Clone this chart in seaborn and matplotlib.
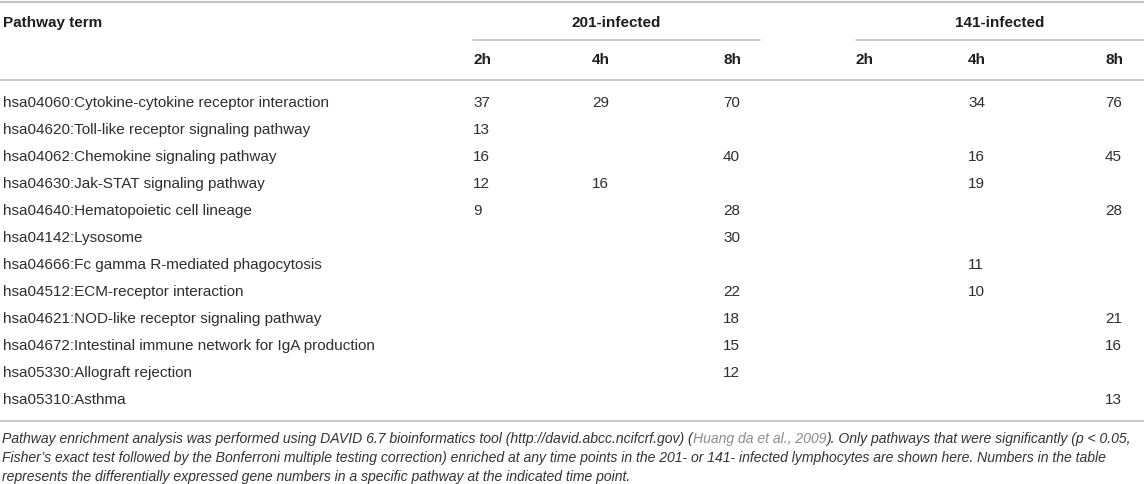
import matplotlib
matplotlib.use("Agg")
import matplotlib.pyplot as plt
from matplotlib import font_manager
import seaborn as sns
import pandas as pd

pathways = [
    "hsa04060:Cytokine-cytokine receptor interaction",
    "hsa04620:Toll-like receptor signaling pathway",
    "hsa04062:Chemokine signaling pathway",
    "hsa04630:Jak-STAT signaling pathway",
    "hsa04640:Hematopoietic cell lineage",
    "hsa04142:Lysosome",
    "hsa04666:Fc gamma R-mediated phagocytosis",
    "hsa04512:ECM-receptor interaction",
    "hsa04621:NOD-like receptor signaling pathway",
    "hsa04672:Intestinal immune network for IgA production",
    "hsa05330:Allograft rejection",
    "hsa05310:Asthma",
]
n = None
inf201_2h = [37, 13, 16, 12, 9, n, n, n, n, n, n, n]
inf201_4h = [29, n, n, 16, n, n, n, n, n, n, n, n]
inf201_8h = [70, n, 40, n, 28, 30, n, 22, 18, 15, 12, n]
inf141_2h = [n, n, n, n, n, n, n, n, n, n, n, n]
inf141_4h = [34, n, 16, 19, n, n, 11, 10, n, n, n, n]
inf141_8h = [76, n, 45, n, 28, n, n, n, 21, 16, n, 13]

groups = ["201-infected", "141-infected"]
timepoints = ["2h", "4h", "8h"]

caption = [
    [("Pathway enrichment analysis was performed using DAVID 6.7 bioinformatics tool (http://david.abcc.ncifcrf.gov) (", "#333333"),
     ("Huang da et al., 2009", "#8c8c8c"),
     ("). Only pathways that were significantly (p < 0.05,", "#333333")],
    [("Fisher\u2019s exact test followed by the Bonferroni multiple testing correction) enriched at any time points in the 201- or 141- infected lymphocytes are shown here. Numbers in the table", "#333333")],
    [("represents the differentially expressed gene numbers in a specific pathway at the indicated time point.", "#333333")],
]

df = pd.DataFrame({
    ("201-infected", "2h"): inf201_2h, ("201-infected", "4h"): inf201_4h, ("201-infected", "8h"): inf201_8h,
    ("141-infected", "2h"): inf141_2h, ("141-infected", "4h"): inf141_4h, ("141-infected", "8h"): inf141_8h,
}, index=pathways)

sns.set_theme(style="white")
plt.rcParams["font.family"] = ["Liberation Sans", "DejaVu Sans"]

# narrow face for the caption if there is one
names = {f.name for f in font_manager.fontManager.ttflist}
cap_family = ["Liberation Sans Narrow", "DejaVu Sans"] if "Liberation Sans Narrow" in names else ["Liberation Sans", "DejaVu Sans"]

W, H = 1144, 485
fig = plt.figure(figsize=(W / 100, H / 100), dpi=100)
ax = fig.add_axes([0, 0, 1, 1])
ax.set_xlim(0, W)
ax.set_ylim(H, 0)
ax.axis("off")

col_x = {("201-infected", "2h"): 473, ("201-infected", "4h"): 592, ("201-infected", "8h"): 723,
         ("141-infected", "2h"): 855, ("141-infected", "4h"): 968, ("141-infected", "8h"): 1105}
group_span = {"201-infected": (473, 760), "141-infected": (856, 1144)}

line_c = "#c4c4c4"
txt_c = "#2e2e2e"
head_c = "#1e1e1e"
fs = 11

# rules
ax.plot([0, W], [3, 3], color=line_c, lw=1.5)
ax.plot([0, W], [81, 81], color=line_c, lw=1.3)
ax.plot([0, W], [422, 422], color=line_c, lw=1.3)

ax.text(3, 23, "Pathway term", fontsize=fs, weight="bold", color=head_c, va="center")
for g in groups:
    x0, x1 = group_span[g]
    ax.plot([x0, x1], [41, 41], color=line_c, lw=1.3)
    ax.text((x0 + x1) / 2, 23, g, fontsize=fs, weight="bold", color=head_c, va="center", ha="center")
    for t in timepoints:
        ax.text(col_x[(g, t)], 60, t, fontsize=fs, weight="bold", color=head_c, va="center")

row_y0, row_dy = 103, 27
for i, p in enumerate(df.index):
    y = row_y0 + i * row_dy
    ax.text(3, y, p, fontsize=fs, color=txt_c, va="center")
    for col in df.columns:
        v = df.loc[p, col]
        if pd.notna(v):
            ax.text(col_x[col], y, str(int(v)), fontsize=fs, color=txt_c, va="center")

# caption, fitted to width
fig.canvas.draw()
r = fig.canvas.get_renderer()
cap_fs = 9
probe = ax.text(0, 0, "".join(s for s, _ in caption[0]), fontsize=cap_fs, style="italic", family=cap_family)
wpx = probe.get_window_extent(r).width
probe.remove()
cap_fs = cap_fs * 1138 / wpx
for li, parts in enumerate(caption):
    y = 439 + li * 19
    x = 2
    for s, c in parts:
        t = ax.text(x, y, s, fontsize=cap_fs, style="italic", color=c, va="center", family=cap_family)
        x += t.get_window_extent(r).width

fig.savefig("out.png", dpi=100)
